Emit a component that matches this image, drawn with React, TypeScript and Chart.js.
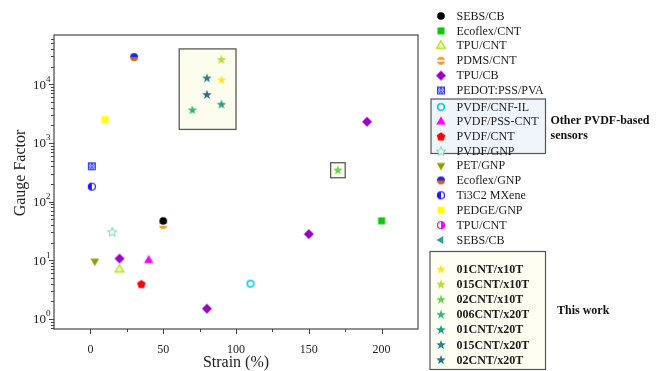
import React, { useEffect, useRef } from 'react';
import { Chart, registerables } from 'chart.js';

Chart.register(...registerables);

type Pt = [number, number];

// ---------- data (strain %, gauge factor) ----------
const SEBS_CB: Pt[] = [[50, 47]];
const ECOFLEX_CNT: Pt[] = [[200, 47]];
const TPU_CNT: Pt[] = [[20, 7]];
const PDMS_CNT: Pt[] = [[50, 40]];
const TPU_CB: Pt[] = [[20, 10.7], [80, 1.5], [150, 28], [190, 2300]];
const PEDOT_PSS_PVA: Pt[] = [[1, 400]];
const PVDF_CNF_IL: Pt[] = [[110, 4]];
const PVDF_PSS_CNT: Pt[] = [[40, 10]];
const PVDF_CNT: Pt[] = [[35, 3.9]];
const PVDF_GNP: Pt[] = [[15, 30]];
const PET_GNP: Pt[] = [[3, 9.7]];
const ECOFLEX_GNP: Pt[] = [[30, 29000]];
const TI3C2_MXENE: Pt[] = [[1, 180]];
const PEDGE_GNP: Pt[] = [[10, 2500]];
const TPU_CNT_2: Pt[] = [];
const SEBS_CB_2: Pt[] = [];

const W01CNT_X10T: Pt[] = [[90, 11700]];
const W015CNT_X10T: Pt[] = [[90, 26000]];
const W02CNT_X10T: Pt[] = [[170, 340]];
const W006CNT_X20T: Pt[] = [[70, 3600]];
const W01CNT_X20T: Pt[] = [[90, 4500]];
const W015CNT_X20T: Pt[] = [[80, 12600]];
const W02CNT_X20T: Pt[] = [[80, 6600]];

const X_TICKS = [0, 50, 100, 150, 200];
const X_MINOR = [25, 75, 125, 175];
const Y_POWERS = [0, 1, 2, 3, 4];

// highlight boxes (data coordinates)
const WORK_BOX_X = [61, 100];
const WORK_BOX_Y = [1700, 40000];
const SMALL_BOX_X = [165, 175];
const SMALL_BOX_Y = [255, 460];

const FONT = "'Liberation Serif', 'Times New Roman', Times, serif";

// ---------- markers ----------
function mk(size: number, draw: (c: CanvasRenderingContext2D) => void) {
  const cv = document.createElement('canvas');
  cv.width = size;
  cv.height = size;
  const ctx = cv.getContext('2d')!;
  ctx.translate(size / 2, size / 2);
  draw(ctx);
  return cv;
}
function poly(ctx: CanvasRenderingContext2D, n: number, R: number, startDeg: number) {
  ctx.beginPath();
  for (let i = 0; i < n; i++) {
    const a = (startDeg * Math.PI) / 180 + (i * 2 * Math.PI) / n;
    const px = Math.cos(a) * R;
    const py = Math.sin(a) * R;
    if (i === 0) ctx.moveTo(px, py);
    else ctx.lineTo(px, py);
  }
  ctx.closePath();
}
function starPath(ctx: CanvasRenderingContext2D, R: number, r: number) {
  ctx.beginPath();
  for (let i = 0; i < 10; i++) {
    const a = -Math.PI / 2 + (i * Math.PI) / 5;
    const rad = i % 2 === 0 ? R : r;
    const px = Math.cos(a) * rad;
    const py = Math.sin(a) * rad;
    if (i === 0) ctx.moveTo(px, py);
    else ctx.lineTo(px, py);
  }
  ctx.closePath();
}
const circleFill = (color: string, r = 3.8) =>
  mk(12, (c) => {
    c.beginPath();
    c.arc(0, 0, r, 0, Math.PI * 2);
    c.fillStyle = color;
    c.fill();
  });
const squareFill = (color: string, s = 7) =>
  mk(12, (c) => {
    c.fillStyle = color;
    c.fillRect(-s / 2, -s / 2, s, s);
  });
const triangle = (fill: string, stroke: string | null, deg: number, R = 5) =>
  mk(14, (c) => {
    poly(c, 3, R, deg);
    c.fillStyle = fill;
    c.fill();
    if (stroke) {
      c.strokeStyle = stroke;
      c.lineWidth = 1.4;
      c.stroke();
    }
  });
const starFill = (color: string) =>
  mk(14, (c) => {
    starPath(c, 5, 2.1);
    c.fillStyle = color;
    c.fill();
  });

const M_SEBS_CB = circleFill('#000000');
const M_ECOFLEX_CNT = squareFill('#00cc00');
const M_TPU_CNT = triangle('#eef8c0', '#b4e030', -90);
const M_PDMS_CNT = mk(12, (c) => {
  c.beginPath();
  c.arc(0, 0, 4, 0, Math.PI * 2);
  c.fillStyle = '#f0a030';
  c.fill();
  c.fillStyle = '#ffffff';
  c.fillRect(-4, -0.8, 8, 1.6);
});
const M_TPU_CB = mk(14, (c) => {
  poly(c, 4, 5, 0);
  c.fillStyle = '#9900cc';
  c.fill();
});
const M_PEDOT = mk(12, (c) => {
  c.fillStyle = '#ffffff';
  c.fillRect(-4, -4, 8, 8);
  c.save();
  c.beginPath();
  c.rect(-4, -4, 8, 8);
  c.clip();
  c.strokeStyle = '#2a3cff';
  c.lineWidth = 1;
  for (let k = -10; k <= 10; k += 2.7) {
    c.beginPath();
    c.moveTo(-6, -6 + k);
    c.lineTo(6, 6 + k);
    c.stroke();
    c.beginPath();
    c.moveTo(-6, 6 + k);
    c.lineTo(6, -6 + k);
    c.stroke();
  }
  c.restore();
  c.strokeStyle = '#2a3cff';
  c.lineWidth = 1;
  c.strokeRect(-3.5, -3.5, 7, 7);
});
const M_PVDF_CNF_IL = mk(12, (c) => {
  c.beginPath();
  c.arc(0, 0, 3.3, 0, Math.PI * 2);
  c.fillStyle = '#ffffff';
  c.fill();
  c.strokeStyle = '#00ccee';
  c.lineWidth = 1.6;
  c.stroke();
});
const M_PVDF_PSS_CNT = triangle('#ff00ff', null, -90, 5.5);
const M_PVDF_CNT = mk(12, (c) => {
  poly(c, 5, 4.5, -90);
  c.fillStyle = '#ff0000';
  c.fill();
});
const M_PVDF_GNP = mk(14, (c) => {
  starPath(c, 5, 2.2);
  c.fillStyle = '#f0fbf7';
  c.fill();
  c.strokeStyle = '#80d4bc';
  c.lineWidth = 1;
  c.stroke();
});
const M_PET_GNP = triangle('#999900', null, 90, 5);
const M_ECOFLEX_GNP = mk(12, (c) => {
  c.beginPath();
  c.arc(0, 0, 4, Math.PI, Math.PI * 2);
  c.closePath();
  c.fillStyle = '#1f2ad8';
  c.fill();
  c.beginPath();
  c.arc(0, 0, 4, 0, Math.PI);
  c.closePath();
  c.fillStyle = '#d8601e';
  c.fill();
});
const M_TI3C2 = mk(12, (c) => {
  c.beginPath();
  c.arc(0, 0, 3.5, 0, Math.PI * 2);
  c.fillStyle = '#ffffff';
  c.fill();
  c.beginPath();
  c.arc(0, 0, 3.5, Math.PI / 2, (Math.PI * 3) / 2);
  c.closePath();
  c.fillStyle = '#1a1aff';
  c.fill();
  c.beginPath();
  c.arc(0, 0, 3.5, 0, Math.PI * 2);
  c.strokeStyle = '#1a1aff';
  c.lineWidth = 1.2;
  c.stroke();
});
const M_PEDGE_GNP = squareFill('#ffff00');
const M_TPU_CNT_2 = mk(12, (c) => {
  c.beginPath();
  c.arc(0, 0, 3.5, 0, Math.PI * 2);
  c.fillStyle = '#ffffff';
  c.fill();
  c.beginPath();
  c.arc(0, 0, 3.5, -Math.PI / 2, Math.PI / 2);
  c.closePath();
  c.fillStyle = '#ff00ff';
  c.fill();
  c.beginPath();
  c.arc(0, 0, 3.5, 0, Math.PI * 2);
  c.strokeStyle = '#ff00ff';
  c.lineWidth = 1.2;
  c.stroke();
});
const M_SEBS_CB_2 = triangle('#339999', null, 180, 4.5);

const M_W1 = starFill('#fde725');
const M_W2 = starFill('#b5de2b');
const M_W3 = starFill('#6ece58');
const M_W4 = starFill('#35b779');
const M_W5 = starFill('#1f9e89');
const M_W6 = starFill('#26828e');
const M_W7 = starFill('#31688e');

type Series = { label: string; data: Pt[]; marker: HTMLCanvasElement };

const OTHERS_A: Series[] = [
  { label: 'SEBS/CB', data: SEBS_CB, marker: M_SEBS_CB },
  { label: 'Ecoflex/CNT', data: ECOFLEX_CNT, marker: M_ECOFLEX_CNT },
  { label: 'TPU/CNT', data: TPU_CNT, marker: M_TPU_CNT },
  { label: 'PDMS/CNT', data: PDMS_CNT, marker: M_PDMS_CNT },
  { label: 'TPU/CB', data: TPU_CB, marker: M_TPU_CB },
  { label: 'PEDOT:PSS/PVA', data: PEDOT_PSS_PVA, marker: M_PEDOT },
];
const PVDF: Series[] = [
  { label: 'PVDF/CNF-IL', data: PVDF_CNF_IL, marker: M_PVDF_CNF_IL },
  { label: 'PVDF/PSS-CNT', data: PVDF_PSS_CNT, marker: M_PVDF_PSS_CNT },
  { label: 'PVDF/CNT', data: PVDF_CNT, marker: M_PVDF_CNT },
  { label: 'PVDF/GNP', data: PVDF_GNP, marker: M_PVDF_GNP },
];
const OTHERS_B: Series[] = [
  { label: 'PET/GNP', data: PET_GNP, marker: M_PET_GNP },
  { label: 'Ecoflex/GNP', data: ECOFLEX_GNP, marker: M_ECOFLEX_GNP },
  { label: 'Ti3C2 MXene', data: TI3C2_MXENE, marker: M_TI3C2 },
  { label: 'PEDGE/GNP', data: PEDGE_GNP, marker: M_PEDGE_GNP },
  { label: 'TPU/CNT', data: TPU_CNT_2, marker: M_TPU_CNT_2 },
  { label: 'SEBS/CB', data: SEBS_CB_2, marker: M_SEBS_CB_2 },
];
const WORK: Series[] = [
  { label: '01CNT/x10T', data: W01CNT_X10T, marker: M_W1 },
  { label: '015CNT/x10T', data: W015CNT_X10T, marker: M_W2 },
  { label: '02CNT/x10T', data: W02CNT_X10T, marker: M_W3 },
  { label: '006CNT/x20T', data: W006CNT_X20T, marker: M_W4 },
  { label: '01CNT/x20T', data: W01CNT_X20T, marker: M_W5 },
  { label: '015CNT/x20T', data: W015CNT_X20T, marker: M_W6 },
  { label: '02CNT/x20T', data: W02CNT_X20T, marker: M_W7 },
];
const ALL: Series[] = [...OTHERS_A, ...PVDF, ...OTHERS_B, ...WORK];

const decor = {
  id: 'decor',
  beforeDatasetsDraw(chart: any) {
    const { ctx, scales } = chart;
    const x = scales.x;
    const y = scales.y;
    const boxes = [
      [WORK_BOX_X, WORK_BOX_Y],
      [SMALL_BOX_X, SMALL_BOX_Y],
    ];
    ctx.save();
    for (const [bx, by] of boxes) {
      const l = x.getPixelForValue(bx[0]);
      const r = x.getPixelForValue(bx[1]);
      const t = y.getPixelForValue(by[1]);
      const b = y.getPixelForValue(by[0]);
      ctx.fillStyle = '#fdfdee';
      ctx.fillRect(l, t, r - l, b - t);
      ctx.strokeStyle = '#5a5a5a';
      ctx.lineWidth = 1.3;
      ctx.strokeRect(l, t, r - l, b - t);
    }
    ctx.restore();
  },
  afterDraw(chart: any) {
    const { ctx, chartArea: a, scales } = chart;
    const x = scales.x;
    const y = scales.y;
    ctx.save();
    // frame
    ctx.strokeStyle = '#555';
    ctx.lineWidth = 1.3;
    ctx.strokeRect(a.left, a.top, a.right - a.left, a.bottom - a.top);
    // x ticks
    ctx.lineWidth = 1;
    ctx.strokeStyle = '#444';
    for (const v of X_TICKS) {
      const px = Math.round(x.getPixelForValue(v)) + 0.5;
      ctx.beginPath();
      ctx.moveTo(px, a.bottom);
      ctx.lineTo(px, a.bottom + 5);
      ctx.stroke();
    }
    for (const v of X_MINOR) {
      const px = Math.round(x.getPixelForValue(v)) + 0.5;
      ctx.beginPath();
      ctx.moveTo(px, a.bottom);
      ctx.lineTo(px, a.bottom + 3);
      ctx.stroke();
    }
    // y ticks
    for (let p = -1; p <= 5; p++) {
      for (let k = 1; k <= 9; k++) {
        const v = k * Math.pow(10, p);
        if (v < y.min || v > y.max) continue;
        const py = Math.round(y.getPixelForValue(v)) + 0.5;
        ctx.beginPath();
        ctx.moveTo(a.left, py);
        ctx.lineTo(a.left - (k === 1 ? 5 : 3), py);
        ctx.stroke();
      }
    }
    // y labels 10^n
    ctx.fillStyle = '#222';
    ctx.textBaseline = 'middle';
    for (const p of Y_POWERS) {
      const py = y.getPixelForValue(Math.pow(10, p));
      ctx.font = `13px ${FONT}`;
      ctx.textAlign = 'right';
      ctx.fillText('10', a.left - 8, py + 1);
      ctx.font = `9px ${FONT}`;
      ctx.textAlign = 'left';
      ctx.fillText(String(p), a.left - 8, py - 5);
    }
    // axis titles
    ctx.font = `16px ${FONT}`;
    ctx.textAlign = 'center';
    ctx.fillText('Strain (%)', (a.left + a.right) / 2, 363);
    ctx.save();
    ctx.translate(21, 173);
    ctx.rotate(-Math.PI / 2);
    ctx.fillText('Gauge Factor', 0, 0);
    ctx.restore();

    // legend
    const mx = 441;
    const tx = 456.5;
    // PVDF box
    ctx.fillStyle = '#eef6fb';
    ctx.fillRect(431, 99, 114.5, 54.5);
    ctx.strokeStyle = '#555';
    ctx.lineWidth = 1.2;
    ctx.strokeRect(431, 99, 114.5, 54.5);
    // work box
    ctx.fillStyle = '#fefef2';
    ctx.fillRect(430, 251.5, 115.5, 118);
    ctx.strokeRect(430, 251.5, 115.5, 118);

    const drawRow = (s: Series, ry: number, bold: boolean) => {
      ctx.drawImage(s.marker, mx - s.marker.width / 2, ry - s.marker.height / 2);
      ctx.fillStyle = '#1a1a1a';
      ctx.font = `${bold ? 'bold ' : ''}12px ${FONT}`;
      ctx.textAlign = 'left';
      ctx.textBaseline = 'middle';
      ctx.fillText(s.label, tx, ry + 0.5);
    };
    const firstRows = [...OTHERS_A, ...PVDF, ...OTHERS_B];
    firstRows.forEach((s, i) => {
      const ry = 16 + i * 14.9 + (i >= 6 ? 1.5 : 0) - (i >= 10 ? 1 : 0);
      drawRow(s, ry, false);
    });
    WORK.forEach((s, i) => drawRow(s, 269.5 + i * 15.1, true));

    ctx.fillStyle = '#111';
    ctx.font = `bold 12px ${FONT}`;
    ctx.textAlign = 'left';
    ctx.fillText('Other PVDF-based', 550.5, 120.5);
    ctx.fillText('sensors', 550.5, 135.5);
    ctx.fillText('This work', 557, 311);
    ctx.restore();
  },
};

export default function App() {
  const ref = useRef<HTMLCanvasElement | null>(null);
  useEffect(() => {
    document.body.style.margin = '0';
    const canvas = ref.current!;
    const chart = new Chart(canvas, {
      type: 'scatter',
      data: {
        datasets: ALL.map((s) => ({
          label: s.label,
          data: s.data.map(([px, py]) => ({ x: px, y: py })),
          pointStyle: s.marker as any,
          pointRadius: 5,
          showLine: false,
        })),
      },
      options: {
        animation: false,
        responsive: false,
        devicePixelRatio: 1,
        layout: { padding: { left: 0, top: 35, right: 247, bottom: 0 } },
        plugins: { legend: { display: false }, tooltip: { enabled: false } },
        scales: {
          x: {
            type: 'linear',
            min: -25,
            max: 225,
            grid: { display: false },
            border: { display: false },
            afterBuildTicks: (sc: any) => {
              sc.ticks = X_TICKS.map((v) => ({ value: v }));
            },
            afterFit: (sc: any) => {
              sc.height = 42;
            },
            ticks: {
              padding: 6,
              color: '#222',
              font: { family: FONT, size: 12 },
              maxRotation: 0,
            },
          },
          y: {
            type: 'logarithmic',
            min: 0.676,
            max: 69000,
            grid: { display: false },
            border: { display: false },
            ticks: { display: false },
            afterFit: (sc: any) => {
              sc.width = 54;
            },
          },
        },
      },
      plugins: [decor],
    });
    return () => chart.destroy();
  }, []);
  return (
    <div style={{ position: 'relative', width: 665, height: 371, background: '#fff' }}>
      <canvas ref={ref} width={665} height={371} />
    </div>
  );
}
